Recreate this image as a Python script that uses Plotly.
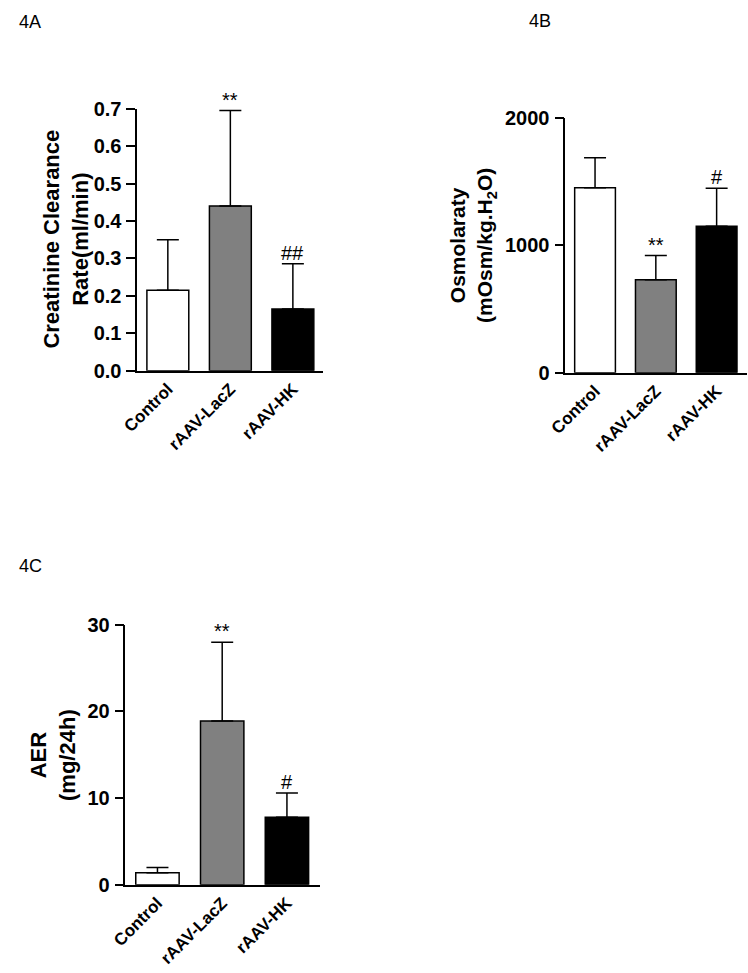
import plotly.graph_objects as go

categories = ["Control", "rAAV-LacZ", "rAAV-HK"]
bar_colors = ["#ffffff", "#808080", "#000000"]

ccr_mean = [0.215, 0.44, 0.165]
ccr_sd = [0.135, 0.255, 0.121]
ccr_sig = ["", "**", "##"]

osm_mean = [1450, 728, 1148]
osm_sd = [235, 190, 298]
osm_sig = ["", "**", "#"]

aer_mean = [1.4, 18.9, 7.8]
aer_sd = [0.6, 9.1, 2.8]
aer_sig = ["", "**", "#"]

W, H = 748, 973
FONT = "Liberation Sans, Arial, sans-serif"

def px_x(p):
    return p / W

def px_y(p):
    return 1 - p / H

panels = [
    dict(mean=ccr_mean, sd=ccr_sd, sig=ccr_sig, ax="", xdom=[px_x(123), px_x(313)],
         ydom=[px_y(368), px_y(100)], yrange=[0, 0.7], tickvals=[0, 0.1, 0.2, 0.3, 0.4, 0.5, 0.6, 0.7],
         fmt=".1f", xrange=[-0.49, 2.48],
         title="Creatinine Clearance<br>Rate(ml/min)", tsize=22, tx=50, ty=233,
         label="4A", lx=0, ly=11),
    dict(mean=osm_mean, sd=osm_sd, sig=osm_sig, ax="2", xdom=[px_x(561), px_x(747)],
         ydom=[px_y(370), px_y(109)], yrange=[0, 2000], tickvals=[0, 1000, 2000],
         fmt="d", xrange=[-0.49, 2.5],
         title="Osmolaraty<br>(mOsm/kg.H<sub>2</sub>O)", tsize=21, tx=466, ty=240,
         label="4B", lx=522, ly=10),
    dict(mean=aer_mean, sd=aer_sd, sig=aer_sig, ax="3", xdom=[px_x(111), px_x(310)],
         ydom=[px_y(894), px_y(628)], yrange=[0, 30], tickvals=[0, 10, 20, 30],
         fmt="d", xrange=[-0.494, 2.51],
         title="AER<br>(mg/24h)", tsize=22, tx=37, ty=761,
         label="4C", lx=0, ly=568),
]

fig = go.Figure()
annotations = []
layout = {}

for p in panels:
    xa = "x" + p["ax"]
    ya = "y" + p["ax"]
    xpos = list(range(len(categories)))
    fig.add_trace(go.Bar(
        x=xpos, y=p["mean"], width=0.67,
        marker=dict(color=bar_colors, line=dict(color="black", width=1.5)),
        error_y=dict(type="data", symmetric=False, array=p["sd"],
                     arrayminus=[0] * len(p["sd"]),
                     color="black", thickness=1.5, width=11),
        xaxis=xa, yaxis=ya, showlegend=False, cliponaxis=False,
    ))
    layout["xaxis" + p["ax"]] = dict(
        domain=p["xdom"], anchor=ya, range=p["xrange"],
        tickmode="array", tickvals=xpos, ticktext=categories,
        tickangle=-45, ticks="", showline=True, linecolor="black", linewidth=1.5,
        showgrid=False, zeroline=False,
        tickfont=dict(family=FONT, size=17, color="black", weight="bold"),
    )
    layout["yaxis" + p["ax"]] = dict(
        domain=p["ydom"], anchor=xa, range=p["yrange"],
        tickmode="array", tickvals=p["tickvals"], tickformat=p["fmt"],
        ticks="outside", ticklen=9, tickwidth=1.5, tickcolor="black",
        showline=True, linecolor="black", linewidth=1.5,
        showgrid=False, zeroline=False, ticklabelstandoff=1,
        tickfont=dict(family=FONT, size=20, color="black", weight="bold"),
    )
    for i, s in enumerate(p["sig"]):
        if s:
            annotations.append(dict(
                x=xpos[i], y=p["mean"][i] + p["sd"][i], xref=xa, yref=ya,
                text=s, showarrow=False, yanchor="bottom", xanchor="center",
                yshift=-2, font=dict(family=FONT, size=20, color="black"),
            ))
    annotations.append(dict(
        x=px_x(p["tx"]), y=px_y(p["ty"]), xref="paper", yref="paper",
        text=p["title"], textangle=-90, showarrow=False,
        xanchor="center", yanchor="middle",
        font=dict(family=FONT, size=p["tsize"], color="black", weight="bold"),
    ))
    annotations.append(dict(
        x=px_x(p["lx"]), y=px_y(p["ly"]), xref="paper", yref="paper",
        text=p["label"], showarrow=False, xanchor="left", yanchor="middle",
        font=dict(family=FONT, size=18, color="black"),
    ))

fig.update_layout(
    width=W, height=H,
    margin=dict(l=0, r=0, t=0, b=0),
    paper_bgcolor="white", plot_bgcolor="white",
    annotations=annotations,
    **layout,
)

fig.write_html("out.html", config={"displayModeBar": False},
               post_script="document.body.style.margin='0';document.body.style.overflow='hidden';")
